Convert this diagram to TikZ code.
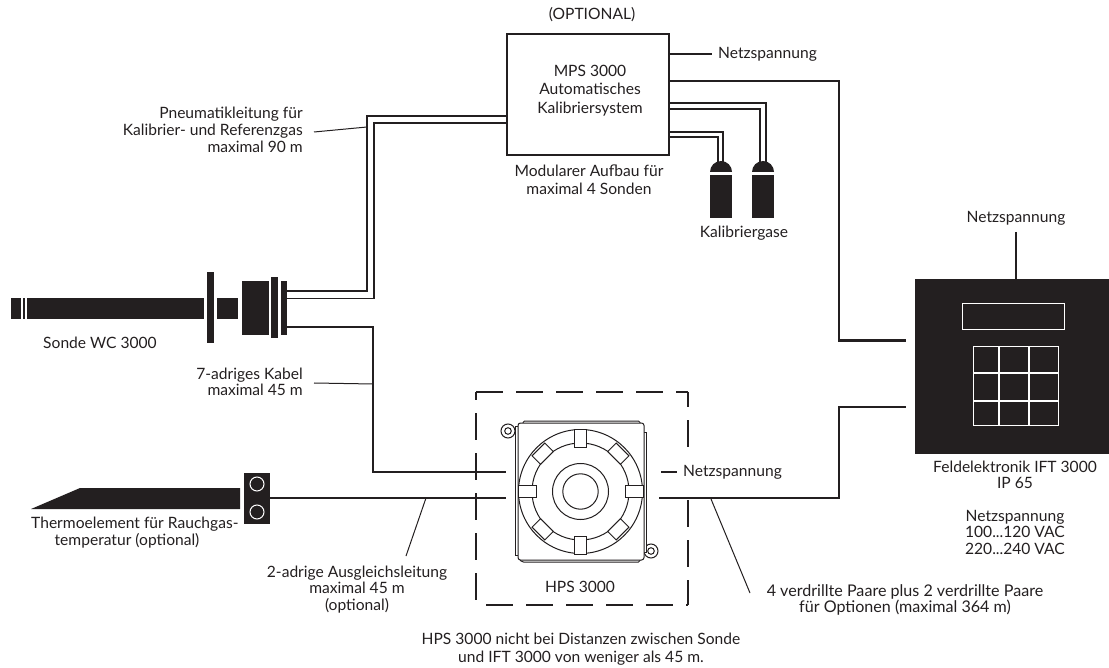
\documentclass[tikz,border=0pt]{standalone}
\usepackage{fontspec}
\setmainfont{Lato}
\usetikzlibrary{calc}
\definecolor{ink}{RGB}{35,31,32}
\tikzset{
  txt/.style={inner sep=0pt,align=center,text=ink,font=\fontsize{15.6}{16.5}\selectfont},
  txtwide/.style={txt,font=\fontsize{15.6}{18.3}\selectfont},
  txtr/.style={txt,align=right,anchor=east},
  thick line/.style={draw=ink,line width=2.4pt},
  pipe/.style={draw=ink,line width=1.1pt},
  leader/.style={draw=ink,line width=1pt},
  solid block/.style={fill=ink,draw=none,inner sep=0pt,rectangle},
  hps/.style={draw=ink,line width=1pt},
  clip part/.style={draw=ink,line width=1pt,fill=white,inner sep=0pt,minimum width=12pt,minimum height=18pt},
  white line/.style={draw=white,line width=1.8pt},
  dash edge/.style={draw=ink,line width=2.4pt,dash pattern=on 27pt off 13pt}
}
\newcommand{\blockat}[5]{\node[solid block,minimum width=#4pt-#2pt,minimum height=#5pt-#3pt,anchor=north west] (#1) at (#2,#3) {};}
\begin{document}
\begin{tikzpicture}[x=1pt,y=-1pt]
\useasboundingbox (0,0) rectangle (1109,668);
% MPS
\node[draw=ink,line width=1.1pt,minimum width=162pt,minimum height=121pt,inner sep=0pt,fill=white] (mps) at (588,94.5) {};
\node[txtwide] (mpstxt) at (590,90.5) {MPS 3000\\Automatisches\\Kalibriersystem};
\node[txt] (opt) at (592,15) {(OPTIONAL)};
\node[txtwide] (mod) at (589,180) {Modularer Aufbau für\\maximal 4 Sonden};
\node[txt,anchor=west] (net1) at (718,54) {Netzspannung};
\node[txt] (net2) at (1016,218) {Netzspannung};
\node[txt,anchor=west] (net3) at (683,472) {Netzspannung};
\node[txt] (kal) at (744,233) {Kalibriergase};
\node[txtr,font=\fontsize{15.6}{17}\selectfont] (pneu) at (303,130) {Pneumatikleitung für\\Kalibrier- und Referenzgas\\maximal 90 m};
\node[txt] (sonde) at (100,343) {Sonde WC 3000};
\node[txtr] (kabel) at (303,382) {7-adriges Kabel\\maximal 45 m};
\node[txt,anchor=west] (therm) at (31,524) {Thermoelement für Rauchgas-};
\node[txt] (therm2) at (127,541) {temperatur (optional)};
\node[txt] (ausg) at (357,589.5) {2-adrige Ausgleichsleitung\\maximal 45 m\\(optional)};
\node[txt] (hpsl) at (580,587) {HPS 3000};
\node[txt,font=\fontsize{16.1}{16.5}\selectfont] (vier) at (905,600) {4 verdrillte Paare plus 2 verdrillte Paare\\für Optionen (maximal 364 m)};
\node[txt,font=\fontsize{15.6}{18}\selectfont] (hinw) at (581,649) {HPS 3000 nicht bei Distanzen zwischen Sonde\\und IFT 3000 von weniger als 45 m.};
\node[txt] (feld) at (1015,475) {Feldelektronik IFT 3000\\IP 65};
\node[txt] (ver) at (1015,532) {Netzspannung\\100...120 VAC\\220...240 VAC};
% IFT
\node[solid block,minimum width=194pt,minimum height=175pt] (ift) at (1012,366.5) {};
\node[draw=white,line width=1.8pt,minimum width=102pt,minimum height=26pt,inner sep=0pt] (disp) at (1013.5,316.5) {};
\node[draw=white,line width=1.8pt,minimum width=85pt,minimum height=79pt,inner sep=0pt] (keys) at (1016,386) {};
\draw[white line] (999,346) -- (999,426) (1029,346) -- (1029,426) (973,373) -- (1059,373) (973,401) -- (1059,401);
% probe
\blockat{p1}{11}{298}{21}{319}
\blockat{p2}{22.5}{298}{25}{319}
\blockat{p3}{27}{298}{204}{319}
\blockat{p4}{207}{272}{214}{343}
\blockat{p5}{217}{298}{238}{319}
\blockat{p6}{242}{281}{269}{335}
\blockat{p7}{271}{277}{278}{338}
\blockat{p8}{281}{281}{287}{335}
% pipes from probe to MPS
\draw[pipe] (p8.east |- 0,291) -- (367,291) -- (367,116) -- (mps.west |- 0,116);
\draw[pipe] (p8.east |- 0,298.5) -- (374,298.5) -- (374,123) -- (mps.west |- 0,123);
% bottles
\node[solid block,minimum width=22pt,minimum height=43pt,anchor=north west] (b1) at (710,175) {};
\node[solid block,minimum width=22pt,minimum height=43pt,anchor=north west] (b2) at (752,175) {};
\fill[ink] (710,172) arc[start angle=180,end angle=360,radius=11] -- cycle;
\fill[ink] (752,172) arc[start angle=180,end angle=360,radius=11] -- cycle;
\draw[pipe] (mps.east |- 0,103) -- (766,103) -- (766,163);
\draw[pipe] (mps.east |- 0,109) -- (760,109) -- (760,163);
\draw[pipe] (mps.east |- 0,132) -- (723,132) -- (723,163);
\draw[pipe] (mps.east |- 0,137) -- (718,137) -- (718,163);
% power lines
\coordinate (n1) at (712,54);
\coordinate (i1) at (906,340.5);
\coordinate (i2) at (906,407);
\draw[thick line] (mps.east |- n1) -- (n1);
\draw[thick line] (mps.east |- 0,81) -- (839,81) -- (839,340.5) -- (i1);
\draw[thick line] (1016,232) -- (ift.north -| 1016,0);
% dashed box
\draw[dash edge] (476,392) -- (688,392);
\draw[dash edge,dash phase=19pt] (476,392) -- (476,601);
\draw[dash edge,dash phase=12pt] (688,392) -- (688,447);
\draw[dash edge] (688,500) -- (688,605);
\draw[dash edge] (486,605) -- (688,605);
% HPS
\draw[hps,fill=white] (508,431) circle[radius=7];
\draw[hps,fill=white] (651,551) circle[radius=7];
\draw[hps] (508,431) circle[radius=3.3];
\draw[hps] (651,551) circle[radius=3.3];
\draw[hps,rounded corners=1.5pt] (523,423) -- (523,421) -- (640,421) -- (640,423);
\draw[hps,rounded corners=1.5pt] (520,560) -- (522,562) -- (640,562) -- (640,560);
\draw[hps] (518,426) -- (515,426) -- (515,555) -- (518,555);
\draw[hps,fill=white] (644,432) -- (646.5,432) -- (646.5,552) -- (644,552);
\node[draw=ink,line width=1pt,rounded corners=2.5pt,minimum width=126pt,minimum height=137pt,inner sep=0pt,fill=white] (body) at (581,491.5) {};
\coordinate (c) at (580.5,491.5);
\draw[hps] (c) circle[radius=62];
\draw[hps] (c) circle[radius=48.5];
\foreach \a in {0,45,...,315}
  \node[clip part,rotate=\a+90] at ($(c)+({53.5*cos(\a)},{53.5*sin(\a)})$) {};
\draw[hps] (c) circle[radius=28];
\draw[hps] (c) circle[radius=17.7];
% 7-adrig
\coordinate (k1) at (506,472);
\draw[thick line] (p8.east |- 0,327) -- (373,327) -- (373,472) -- (k1);
% thermo
\fill[ink] (31,509) -- (80,488) -- (240,488) -- (240,509) -- cycle;
\node[solid block,minimum width=26pt,minimum height=51pt] (head) at (257,498.5) {};
\draw[draw=white,line width=1pt] (257,484) circle[radius=7] (257,512) circle[radius=7];
\coordinate (k2) at (506,498);
\draw[thick line] (head.east |- k2) -- (k2);
% HPS to IFT
\draw[thick line] (659,498) -- (839,498) -- (839,407) -- (i2);
\draw[thick line] (661,472) -- (677,472);
% leaders
\draw[leader] (314,132) -- (367,127);
\draw[leader] (314,383) -- (373,384);
\draw[leader] (406,556) -- (426,498);
\draw[leader] (750,593) -- (711,499);
\end{tikzpicture}
\end{document}
